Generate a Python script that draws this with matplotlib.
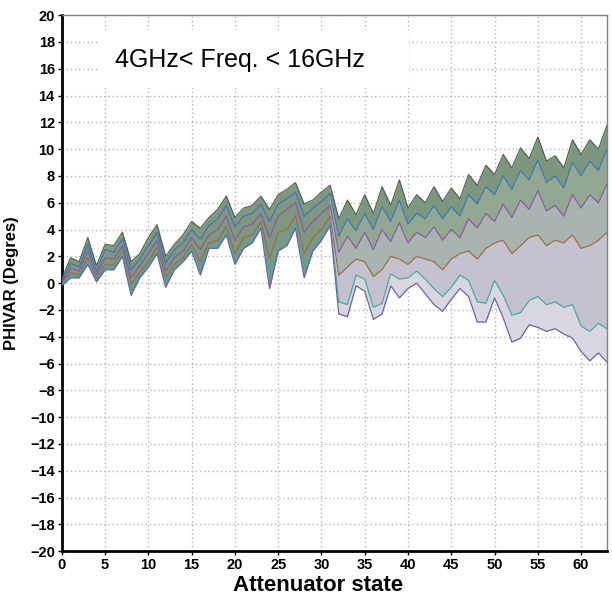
import numpy as np
import matplotlib
matplotlib.use("Agg")
import matplotlib.pyplot as plt
from matplotlib.patches import Rectangle

plt.rcParams['font.family'] = ['Liberation Sans', 'DejaVu Sans']

# Attenuator states 0..63
estados = np.arange(64)

# Curvas (graus), de cima para baixo
topo = [0.3, 1.9, 1.6, 3.4, 1.3, 2.9, 2.8, 3.8,
        1.6, 2.2, 3.4, 4.35, 2.0, 2.9, 3.6, 4.6,
        4.1, 4.9, 5.5, 6.5, 4.9, 5.6, 5.8, 6.5,
        5.5, 6.6, 7.0, 7.5, 5.9, 6.2, 6.8, 7.3,
        4.8, 6.2, 5.1, 6.6, 5.2, 7.2, 5.8, 7.7,
        5.6, 6.6, 6.0, 7.2, 6.1, 7.1, 6.3, 8.1,
        7.3, 8.8, 8.1, 9.6, 8.6, 10.1, 9.3, 10.9,
        9.1, 9.5, 8.6, 10.7, 9.6, 10.7, 10.0, 11.8]

c1 = [0.1, 1.5, 1.2, 2.9, 0.9, 2.5, 2.3, 3.3,
      1.0, 1.8, 2.8, 3.8, 1.5, 2.5, 3.0, 4.0,
      3.3, 4.3, 4.8, 5.8, 4.2, 5.0, 5.2, 5.9,
      4.6, 5.9, 6.3, 6.8, 5.0, 5.6, 6.1, 6.7,
      3.5, 4.8, 3.9, 5.2, 4.0, 5.7, 4.6, 6.2,
      4.4, 5.2, 4.8, 5.8, 4.8, 5.7, 5.0, 6.6,
      5.9, 7.2, 6.6, 8.0, 7.0, 8.4, 7.7, 9.2,
      7.5, 8.0, 7.1, 9.0, 8.0, 9.1, 8.4, 10.0]

c2 = [0.0, 1.1, 0.9, 2.4, 0.6, 1.9, 1.8, 2.8,
      0.4, 1.3, 2.2, 3.2, 0.9, 1.9, 2.4, 3.4,
      2.5, 3.6, 4.0, 5.0, 3.2, 4.2, 4.4, 5.2,
      3.4, 5.0, 5.5, 6.0, 3.8, 4.6, 5.2, 5.8,
      2.3, 3.5, 2.6, 3.8, 2.5, 4.0, 3.1, 4.5,
      3.0, 3.8, 3.4, 4.2, 3.2, 4.0, 3.4, 4.8,
      4.1, 5.2, 4.6, 5.9, 4.9, 6.2, 5.5, 6.9,
      5.4, 5.8, 5.0, 6.6, 5.6, 6.6, 6.0, 7.4]

c3 = [-0.1, 0.8, 0.6, 1.9, 0.3, 1.4, 1.4, 2.4,
      -0.1, 0.8, 1.6, 2.7, 0.4, 1.4, 1.9, 2.9,
      1.6, 3.0, 3.2, 4.2, 2.2, 3.4, 3.6, 4.6,
      1.8, 3.8, 4.0, 5.0, 2.2, 3.4, 4.0, 5.0,
      0.6, 1.2, 1.8, 1.6, 0.5, 1.0, 2.0, 1.8,
      1.4, 2.0, 1.8, 1.6, 1.0, 1.8, 2.2, 2.4,
      1.8, 2.6, 3.0, 3.2, 2.2, 2.8, 3.4, 3.6,
      2.8, 3.2, 3.0, 3.6, 2.6, 2.8, 3.2, 3.8]

c4 = [-0.1, 0.6, 0.5, 1.6, 0.2, 1.2, 1.2, 2.2,
      -0.5, 0.6, 1.4, 2.4, 0.0, 1.2, 1.7, 2.6,
      1.0, 2.8, 2.8, 3.8, 1.8, 3.0, 3.2, 4.3,
      0.6, 3.0, 3.4, 4.5, 1.2, 2.8, 3.5, 4.6,
      -1.4, -1.6, 0.6, 0.3, -1.8, -1.5, 0.7, 0.3,
      0.4, 0.9, 0.3, -0.4, -1.0, -0.3, 0.6, 0.2,
      -1.4, -1.5, 0.2, -0.9, -2.4, -2.2, -1.3, -1.0,
      -1.6, -1.4, -1.8, -1.6, -3.2, -3.6, -3.0, -3.4]

fundo = [-0.2, 0.4, 0.4, 1.4, 0.1, 1.0, 1.0, 2.0,
         -0.9, 0.4, 1.2, 2.2, -0.3, 1.0, 1.6, 2.4,
         0.6, 2.6, 2.6, 3.6, 1.4, 2.6, 3.0, 4.1,
         -0.4, 2.4, 2.8, 4.1, 0.4, 2.4, 3.2, 4.3,
         -2.3, -2.5, -0.2, -0.6, -2.7, -2.3, -0.2, -1.1,
         -0.4, 0.0, -0.8, -1.6, -2.1, -1.2, -0.4, -1.0,
         -2.9, -2.9, -1.1, -2.6, -4.4, -4.1, -3.1, -3.3,
         -3.6, -3.4, -3.8, -4.1, -5.1, -5.8, -5.2, -5.9]

curvas = [topo, c1, c2, c3, c4, fundo]
cores_linha = ['#4d6650', '#3c78b8', '#8a5aa6', '#9c6e48', '#48a8a8', '#6a64a8']
cores_faixa = ['#7d977f', '#92a890', '#a9b4ae', '#c4c2cf', '#d9d6e0']

fig = plt.figure(figsize=(6.12, 6.07), dpi=100)
ax = fig.add_axes([0.101, 0.092, 0.891, 0.883])

# faixa densa (estados 0..31) e faixas abertas (31..63)
esq = estados <= 31
dir_ = estados >= 31
ax.fill_between(estados, topo, fundo, where=esq, color='#7f967f', lw=0, zorder=2)
for i in range(5):
    ax.fill_between(estados, curvas[i], curvas[i + 1], where=dir_,
                    color=cores_faixa[i], lw=0, zorder=2)

for curva, cor in zip(curvas, cores_linha):
    ax.plot(estados, curva, color=cor, lw=0.9, zorder=3)

ax.set_xlim(0, 63)
ax.set_ylim(-20, 20)
ax.set_xticks(np.arange(0, 61, 5))
ax.set_yticks(np.arange(-20, 21, 2))
ax.grid(True, color='#b4b4b4', linestyle=(0, (1, 2)), lw=1.0, zorder=0)
ax.set_axisbelow(True)

for lab in ax.get_xticklabels() + ax.get_yticklabels():
    lab.set_fontweight('bold')
ax.tick_params(labelsize=10.5, length=3, width=1, pad=2)

for lado in ['left', 'bottom']:
    ax.spines[lado].set_linewidth(2)
    ax.spines[lado].set_color('black')
for lado in ['top', 'right']:
    ax.spines[lado].set_linewidth(1)
    ax.spines[lado].set_color('#808080')

ax.set_xlabel('Attenuator state', fontsize=16, fontweight='bold')
ax.xaxis.set_label_coords(0.47, -0.045)
ax.set_ylabel('PHIVAR (Degres)', fontsize=12, fontweight='bold')
ax.yaxis.set_label_coords(-0.079, 0.5)

# caixa branca atrás do texto
ax.add_patch(Rectangle((0.068, 0.864), 0.569, 0.108, transform=ax.transAxes,
                       facecolor='white', edgecolor='none', zorder=1))
ax.text(0.097, 0.916, '4GHz< Freq. < 16GHz', transform=ax.transAxes,
        fontsize=18, va='center', ha='left', zorder=4)

fig.savefig('out.png', dpi=100)
